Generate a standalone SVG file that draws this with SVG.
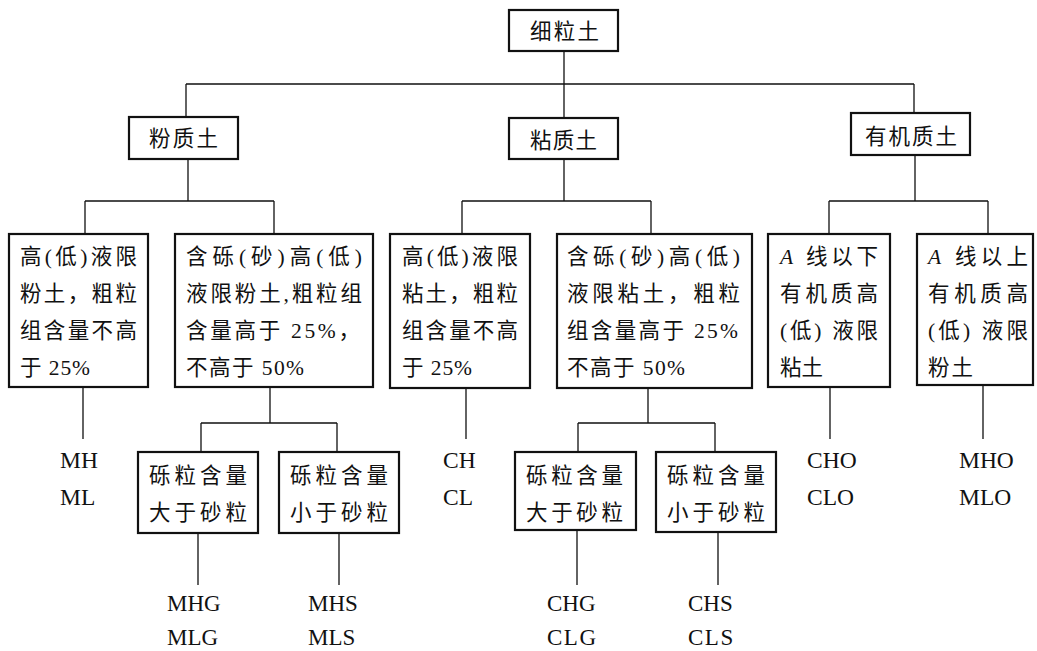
<svg xmlns="http://www.w3.org/2000/svg" width="1037" height="651" viewBox="0 0 1037 651">
<style>
.box{fill:#fff;stroke:#111;stroke-width:2.2}
.cn{fill:none;stroke:#111;stroke-width:1.3}
text{font-family:'Liberation Serif','Noto Sans CJK SC',serif;font-size:21.5px;fill:#111}
.code{font-size:23.5px}
.low{font-size:23px}
.it{font-style:italic}
</style>
<rect width="1037" height="651" fill="#fff"/>
<g id="connectors" class="cn">
<path d="M564 51V118M186 84H914M186 84V117M914 84V113"/>
<path d="M188 159V201M85 201H274M85 201V234M274 201V234"/>
<path d="M564 159V201M462 201H651M462 201V234M651 201V234"/>
<path d="M915 155V201M829 201H988M829 201V234M988 201V234"/>
<path d="M83 387V439M466 388V439M830 387V439M983 385V439"/>
<path d="M270 387V423M201 423H337M201 423V452M337 423V452"/>
<path d="M648 388V423M578 423H715M578 423V452M715 423V452"/>
<path d="M198 533V585M339 533V585M577 530V585M718 532V585"/>
</g>
<g id="n-root"><rect class="box" x="509" y="10" width="109" height="41"/><text x="530" y="39" textLength="69" lengthAdjust="spacing">细粒土</text></g>
<g id="n-silt"><rect class="box" x="129" y="117" width="109" height="42"/><text x="149" y="146" textLength="69" lengthAdjust="spacing">粉质土</text></g>
<g id="n-clay"><rect class="box" x="509" y="118" width="109" height="41"/><text x="530" y="148" textLength="67" lengthAdjust="spacing">粘质土</text></g>
<g id="n-org"><rect class="box" x="851" y="113" width="119" height="42"/><text x="865" y="144" textLength="92" lengthAdjust="spacing">有机质土</text></g>

<g id="n-b1"><rect class="box" x="9" y="234" width="139" height="153"/>
<text x="20" y="264" textLength="117" lengthAdjust="spacing">高(低)液限</text>
<text x="20" y="301" textLength="117" lengthAdjust="spacing">粉土，粗粒</text>
<text x="20" y="338" textLength="117" lengthAdjust="spacing">组含量不高</text>
<text x="20" y="375" textLength="70" lengthAdjust="spacing">于 25%</text></g>

<g id="n-b2"><rect class="box" x="175" y="234" width="198" height="153"/>
<text x="186" y="264" textLength="176" lengthAdjust="spacing">含砾(砂)高(低)</text>
<text x="186" y="301" textLength="176" lengthAdjust="spacing">液限粉土,粗粒组</text>
<text x="186" y="338" textLength="174" lengthAdjust="spacing">含量高于 25%，</text>
<text x="186" y="375" textLength="118" lengthAdjust="spacing">不高于 50%</text></g>

<g id="n-b3"><rect class="box" x="390" y="234" width="140" height="154"/>
<text x="402" y="264" textLength="116" lengthAdjust="spacing">高(低)液限</text>
<text x="402" y="301" textLength="116" lengthAdjust="spacing">粘土，粗粒</text>
<text x="402" y="338" textLength="116" lengthAdjust="spacing">组含量不高</text>
<text x="402" y="375" textLength="70" lengthAdjust="spacing">于 25%</text></g>

<g id="n-b4"><rect class="box" x="557" y="234" width="195" height="154"/>
<text x="567" y="264" textLength="173" lengthAdjust="spacing">含砾(砂)高(低)</text>
<text x="567" y="301" textLength="173" lengthAdjust="spacing">液限粘土，粗粒</text>
<text x="567" y="338" textLength="171" lengthAdjust="spacing">组含量高于 25%</text>
<text x="567" y="375" textLength="118" lengthAdjust="spacing">不高于 50%</text></g>

<g id="n-b5"><rect class="box" x="768" y="234" width="122" height="153"/>
<text x="780" y="264" textLength="98" lengthAdjust="spacing"><tspan class="it">A</tspan> 线以下</text>
<text x="780" y="301" textLength="98" lengthAdjust="spacing">有机质高</text>
<text x="780" y="338" textLength="98" lengthAdjust="spacing">(低) 液限</text>
<text x="780" y="375" textLength="43" lengthAdjust="spacing">粘土</text></g>

<g id="n-b6"><rect class="box" x="917" y="234" width="116" height="151"/>
<text x="928" y="264" textLength="100" lengthAdjust="spacing"><tspan class="it">A</tspan> 线以上</text>
<text x="928" y="301" textLength="100" lengthAdjust="spacing">有机质高</text>
<text x="928" y="338" textLength="100" lengthAdjust="spacing">(低) 液限</text>
<text x="928" y="375" textLength="45" lengthAdjust="spacing">粉土</text></g>

<g id="n-sa"><rect class="box" x="138" y="452" width="120" height="81"/>
<text x="149" y="483" textLength="98" lengthAdjust="spacing">砾粒含量</text>
<text x="149" y="520" textLength="98" lengthAdjust="spacing">大于砂粒</text></g>
<g id="n-sb"><rect class="box" x="279" y="452" width="120" height="81"/>
<text x="290" y="483" textLength="98" lengthAdjust="spacing">砾粒含量</text>
<text x="290" y="520" textLength="98" lengthAdjust="spacing">小于砂粒</text></g>
<g id="n-sc"><rect class="box" x="515" y="452" width="121" height="78"/>
<text x="526" y="483" textLength="97" lengthAdjust="spacing">砾粒含量</text>
<text x="526" y="520" textLength="97" lengthAdjust="spacing">大于砂粒</text></g>
<g id="n-sd"><rect class="box" x="656" y="452" width="120" height="80"/>
<text x="667" y="483" textLength="98" lengthAdjust="spacing">砾粒含量</text>
<text x="667" y="520" textLength="98" lengthAdjust="spacing">小于砂粒</text></g>

<g id="codes">
<text class="code" x="60" y="468">MH</text><text class="code" x="60" y="505">ML</text>
<text class="code" x="443" y="468">CH</text><text class="code" x="443" y="505">CL</text>
<text class="code" x="807" y="468">CHO</text><text class="code" x="807" y="505">CLO</text>
<text class="code" x="959" y="468">MHO</text><text class="code" x="959" y="505">MLO</text>
<text class="low" x="167" y="611">MHG</text><text class="low" x="167" y="645">MLG</text>
<text class="low" x="308" y="611">MHS</text><text class="low" x="308" y="645">MLS</text>
<text class="low" x="547" y="611">CHG</text><text class="low" x="547" y="645" letter-spacing="1.5">CLG</text>
<text class="low" x="688" y="611">CHS</text><text class="low" x="688" y="645" letter-spacing="1.5">CLS</text>
</g>
</svg>
